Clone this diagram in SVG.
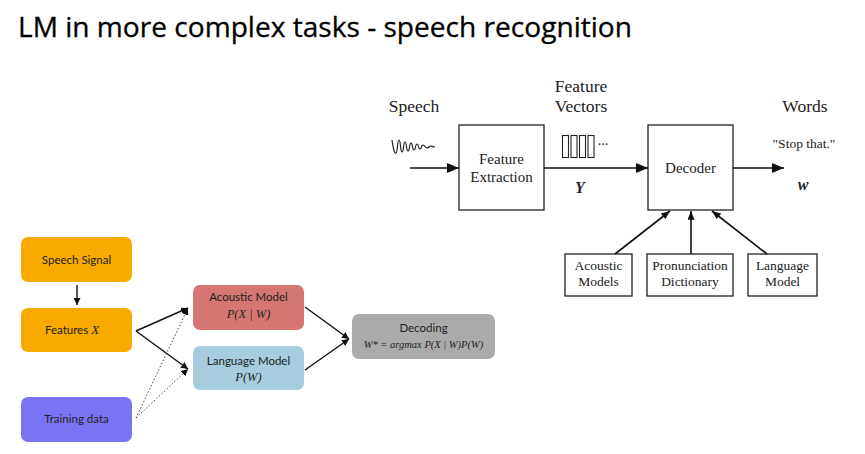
<svg xmlns="http://www.w3.org/2000/svg" width="865" height="454" viewBox="0 0 865 454">
  <style>
    .title { font-family: "Open Sans", "Liberation Sans", sans-serif; font-size: 26.5px; fill: #000; stroke: #000; stroke-width: 0.3; }
    .serif { font-family: "Liberation Serif", "Times New Roman", serif; fill: #222; text-anchor: middle; }
    .lbl { font-size: 17.5px; }
    .box-t { font-size: 15px; }
    .small { font-size: 13.5px; }
    .bi { font-weight: bold; font-style: italic; font-size: 16px; }
    .sbox { fill: #fff; stroke: #222; stroke-width: 1.3; }
    .flow { stroke: #111; stroke-width: 1.6; fill: none; }
    .card-t { font-family: Lato, "Open Sans", sans-serif; font-size: 11.5px; fill: #222; text-anchor: middle; }
    .math { font-family: "Liberation Serif", "Times New Roman", serif; font-style: italic; font-size: 12.5px; fill: #222; text-anchor: middle; }
    .link { stroke: #111; stroke-width: 1.4; fill: none; }
    .dot { stroke: #333; stroke-width: 0.9; fill: none; stroke-dasharray: 1.5 2; }
  </style>
  <defs>
    <marker id="bigHead" viewBox="0 0 12 10" refX="12" refY="5" markerWidth="12" markerHeight="10" markerUnits="userSpaceOnUse" orient="auto">
      <path d="M0,0 L12,5 L0,10 Z" fill="#111"/>
    </marker>
    <marker id="midHead" viewBox="0 0 10 8" refX="10" refY="4" markerWidth="9" markerHeight="7" markerUnits="userSpaceOnUse" orient="auto">
      <path d="M0,0 L10,4 L0,8 Z" fill="#111"/>
    </marker>
    <marker id="smallHead" viewBox="0 0 8 8" refX="8" refY="4" markerWidth="7" markerHeight="7" markerUnits="userSpaceOnUse" orient="auto">
      <path d="M0,0 L8,4 L0,8 Z" fill="#111"/>
    </marker>
  </defs>

  <text class="title" x="18" y="37" textLength="614" lengthAdjust="spacingAndGlyphs">LM in more complex tasks - speech recognition</text>

  <!-- Speech recognition pipeline -->
  <g id="speech-label">
    <text class="serif lbl" x="414" y="112">Speech</text>
    <path d="M392,140 C393,146 394,154 396,153 C398,152 397,140 399,140 C401,140 400,152 402,152 C404,152 403,142 405,142 C407,142 406,151 408,151 C410,151 409,143 411,143 C413,143 412,150 414,150 C416,150 415,144 417,144 C419,144 418,149 420,149 C422,149 421,145 423,145 C425,145 425,148 427,148 C429,148 429,146 431,146 C432,146 433,147 435,147" fill="none" stroke="#222" stroke-width="1.2"/>
  </g>
  <g id="feature-extraction">
    <rect class="sbox" x="459" y="125" width="85" height="85"/>
    <text class="serif box-t" x="501.5" y="164">Feature</text>
    <text class="serif box-t" x="501.5" y="182">Extraction</text>
  </g>
  <g id="feature-vectors">
    <text class="serif lbl" x="581" y="92">Feature</text>
    <text class="serif lbl" x="581" y="112">Vectors</text>
    <g fill="none" stroke="#222" stroke-width="1.1">
      <rect x="562.5" y="135.5" width="6" height="22"/>
      <rect x="571" y="135.5" width="6" height="22"/>
      <rect x="579.5" y="135.5" width="6" height="22"/>
      <rect x="588" y="135.5" width="6" height="22"/>
    </g>
    <text class="serif" x="603" y="145" style="font-size:14px">...</text>
    <text class="serif bi" x="580" y="193">Y</text>
  </g>
  <g id="decoder">
    <rect class="sbox" x="648" y="125" width="85" height="85"/>
    <text class="serif box-t" x="690.5" y="173">Decoder</text>
  </g>
  <g id="words">
    <text class="serif lbl" x="805" y="112">Words</text>
    <text class="serif small" x="804" y="148">"Stop that."</text>
    <text class="serif bi" x="803" y="190">w</text>
  </g>
  <g id="acoustic-models">
    <rect class="sbox" x="565" y="254" width="67" height="42"/>
    <text class="serif small" x="598.5" y="270">Acoustic</text>
    <text class="serif small" x="598.5" y="286">Models</text>
  </g>
  <g id="pronunciation-dictionary">
    <rect class="sbox" x="647" y="254" width="86" height="42"/>
    <text class="serif small" x="690" y="270">Pronunciation</text>
    <text class="serif small" x="690" y="286">Dictionary</text>
  </g>
  <g id="language-model-box">
    <rect class="sbox" x="748" y="254" width="69" height="42"/>
    <text class="serif small" x="782.5" y="270">Language</text>
    <text class="serif small" x="782.5" y="286">Model</text>
  </g>
  <g id="pipeline-connectors">
    <line class="flow" x1="410" y1="168" x2="459" y2="168" marker-end="url(#bigHead)"/>
    <line class="flow" x1="544" y1="168" x2="648" y2="168" marker-end="url(#bigHead)"/>
    <line class="flow" x1="733" y1="168" x2="784" y2="168" marker-end="url(#bigHead)"/>
    <line class="flow" x1="615" y1="254" x2="670" y2="211" marker-end="url(#midHead)"/>
    <line class="flow" x1="691" y1="254" x2="691" y2="211" marker-end="url(#midHead)"/>
    <line class="flow" x1="767" y1="254" x2="712" y2="211" marker-end="url(#midHead)"/>
  </g>

  <!-- Noisy channel formulation -->
  <g id="speech-signal">
    <rect x="21" y="237" width="111" height="45" rx="7" fill="#F7AA00"/>
    <text class="card-t" x="76.5" y="263.5">Speech Signal</text>
  </g>
  <g id="features-x">
    <rect x="21" y="308" width="111" height="44" rx="7" fill="#F7AA00"/>
    <text class="card-t" x="72" y="334">Features <tspan style="font-family:'Liberation Serif',serif;font-style:italic;font-size:13px">X</tspan></text>
  </g>
  <g id="training-data">
    <rect x="21" y="397" width="111" height="45" rx="7" fill="#7B74F2"/>
    <text class="card-t" x="76.5" y="423">Training data</text>
  </g>
  <g id="acoustic-model">
    <rect x="193" y="285" width="111" height="45" rx="7" fill="#D67673"/>
    <text class="card-t" x="248.5" y="301">Acoustic Model</text>
    <text class="math" x="248.5" y="318">P(X | W)</text>
  </g>
  <g id="language-model">
    <rect x="193" y="346" width="111" height="44" rx="7" fill="#A6CCDE"/>
    <text class="card-t" x="248.5" y="365">Language Model</text>
    <text class="math" x="248.5" y="381">P(W)</text>
  </g>
  <g id="decoding">
    <rect x="352" y="314" width="143" height="45" rx="7" fill="#ABABAB"/>
    <text class="card-t" x="423.5" y="332">Decoding</text>
    <text class="math" x="423.5" y="348" style="font-size:10.5px">W* = argmax P(X | W)P(W)</text>
  </g>
  <g id="model-connectors">
    <line class="link" x1="77" y1="285" x2="77" y2="305" marker-end="url(#smallHead)"/>
    <line class="link" x1="136" y1="331" x2="188" y2="308" marker-end="url(#smallHead)"/>
    <line class="link" x1="136" y1="331" x2="188" y2="369" marker-end="url(#smallHead)"/>
    <line class="dot" x1="136" y1="418" x2="188" y2="308" marker-end="url(#smallHead)"/>
    <line class="dot" x1="136" y1="418" x2="188" y2="369" marker-end="url(#smallHead)"/>
    <line class="link" x1="305" y1="307" x2="349" y2="339" marker-end="url(#smallHead)"/>
    <line class="link" x1="305" y1="370" x2="349" y2="339" marker-end="url(#smallHead)"/>
  </g>
</svg>
